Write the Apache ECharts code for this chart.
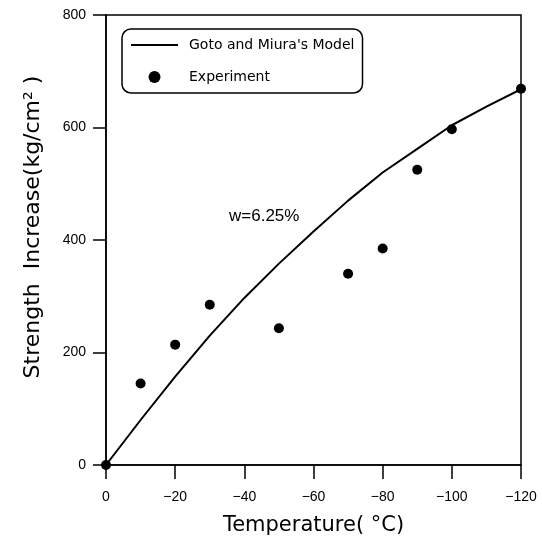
<!DOCTYPE html>
<html>
<head>
<meta charset="utf-8">
<script src="https://cdn.jsdelivr.net/npm/echarts@6/dist/echarts.min.js"></script>
<style>html,body{margin:0;padding:0;background:#fff;}#c{width:542px;height:543px;}</style>
</head>
<body>
<div id="c"></div>
<script>
var modelTemps = [0, -10, -20, -30, -40, -50, -60, -70, -80, -90, -100, -110, -120];
var modelValues = [0, 80, 157, 230, 297, 358, 415, 470, 520, 562, 604, 637, 668];
var expTemps = [0, -10, -20, -30, -50, -70, -80, -90, -100, -120];
var expValues = [0, 145, 214, 285, 243, 340, 385, 525, 597, 669];
var xTicks = [0, -20, -40, -60, -80, -100, -120];
var yTicks = [0, 200, 400, 600, 800];
var seriesNames = ["Goto and Miura's Model", "Experiment"];
var annotation = "w=6.25%";

var chart = echarts.init(document.getElementById('c'), null, {renderer: 'canvas'});
var font = '"Liberation Sans", Arial, sans-serif';
var titleFont = '"DejaVu Sans", sans-serif';
chart.setOption({
  animation: false,
  backgroundColor: '#fff',
  grid: {left: 106, top: 15, right: 21, bottom: 78, show: true, borderColor: '#000', borderWidth: 1.5},
  legend: {
    orient: 'vertical', left: 122, top: 29,
    data: [
      {name: seriesNames[0], itemStyle: {opacity: 0}},
      {name: seriesNames[1]}
    ],
    itemWidth: 47, itemHeight: 12, itemGap: 18,
    padding: [9, 8, 9, 8],
    borderColor: '#000', borderWidth: 1.5, borderRadius: 9,
    textStyle: {fontFamily: titleFont, fontSize: 14, color: '#000', padding: [0, 0, 0, 6]}
  },
  xAxis: {
    type: 'value', inverse: true, min: xTicks[xTicks.length - 1], max: xTicks[0], interval: 20,
    name: 'Temperature( °C)', nameLocation: 'middle', nameGap: 50,
    nameTextStyle: {fontFamily: titleFont, fontSize: 21, color: '#000'},
    axisLine: {onZero: false, lineStyle: {color: '#000', width: 1.5}},
    axisTick: {show: true, inside: false, length: 14, lineStyle: {color: '#000', width: 1.5}},
    axisLabel: {margin: 25, fontFamily: font, fontSize: 14, color: '#000',
      formatter: function (v) { return v < 0 ? '\u2212' + (-v) : String(v); }},
    splitLine: {show: false}
  },
  yAxis: {
    type: 'value', min: yTicks[0], max: yTicks[yTicks.length - 1], interval: 200,
    name: 'Strength  Increase(kg/cm² )', nameLocation: 'middle', nameGap: 62,
    nameTextStyle: {fontFamily: titleFont, fontSize: 22, color: '#000', padding: [0, 0, 0, 26]},
    axisLine: {onZero: false, lineStyle: {color: '#000', width: 1.5}},
    axisTick: {show: true, inside: false, length: 13, lineStyle: {color: '#000', width: 1.5}},
    axisLabel: {margin: 20, fontFamily: font, fontSize: 14, color: '#000'},
    splitLine: {show: false}
  },
  graphic: [{
    type: 'text', left: 229, top: 208,
    style: {text: annotation, fontFamily: font, fontSize: 17, fill: '#000'}
  }],
  series: [{
    name: seriesNames[0], type: 'line', symbol: 'none',
    data: modelTemps.map(function (t, i) { return [t, modelValues[i]]; }),
    lineStyle: {color: '#000', width: 2}, itemStyle: {color: '#000'}
  }, {
    name: seriesNames[1], type: 'scatter', symbol: 'circle', symbolSize: 10,
    data: expTemps.map(function (t, i) { return [t, expValues[i]]; }),
    itemStyle: {color: '#000', opacity: 1}, clip: false, z: 5
  }]
});
</script>
</body>
</html>
